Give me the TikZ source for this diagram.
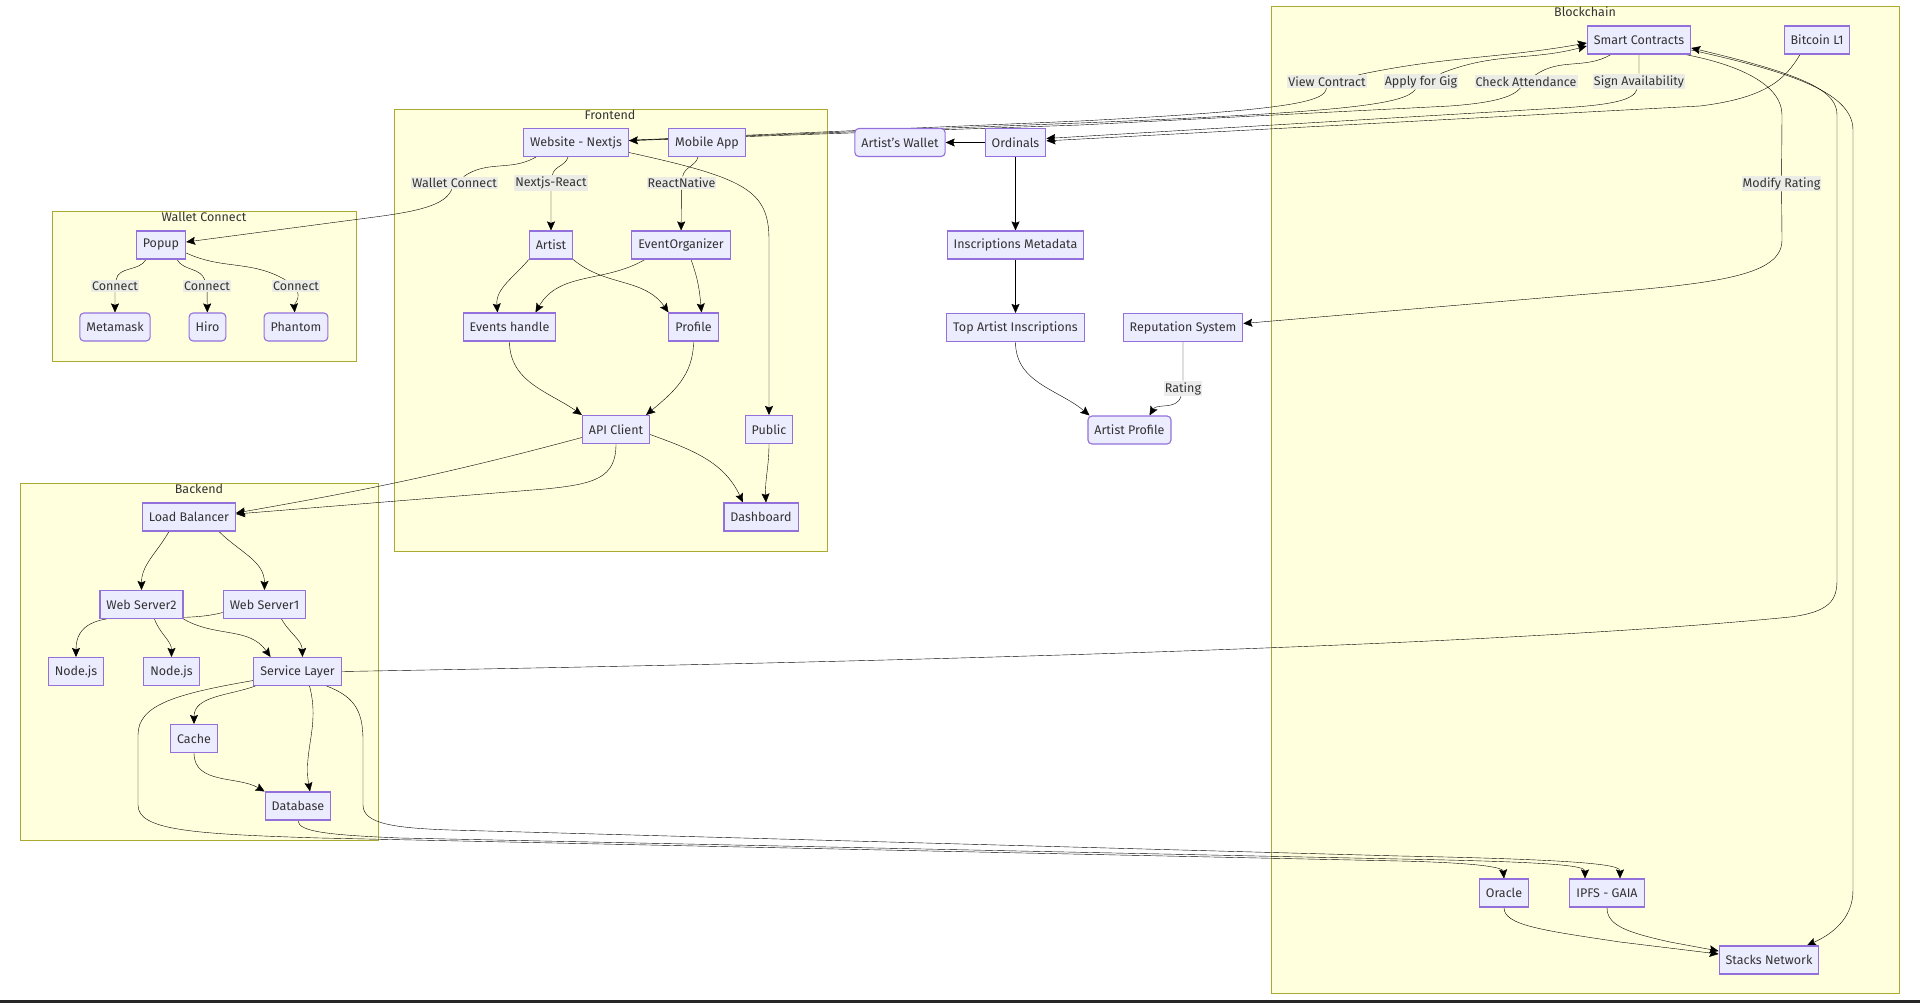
\documentclass[tikz,border=0pt]{standalone}
\usepackage{fontspec}
\setmainfont{Fira Sans}
\usepackage{tikz}
\usetikzlibrary{arrows.meta,backgrounds}
\definecolor{ndfill}{HTML}{ECECFF}
\definecolor{ndline}{HTML}{9370DB}
\definecolor{grpfill}{HTML}{FFFFDE}
\definecolor{grpline}{HTML}{AAAA33}
\definecolor{txt}{HTML}{333333}
\definecolor{lblbg}{HTML}{E8E8E8}

\begin{document}
\begin{tikzpicture}[x=1pt,y=1pt,>={Stealth[length=9pt,width=8pt,inset=1.5pt]},
    font=\fontsize{12.5}{15}\selectfont,
    nd/.style={draw=ndline,fill=ndfill,line width=1.1pt,minimum height=28pt,inner xsep=6.5pt,text=txt},
    rnd/.style={nd,rounded corners=4pt},
    lbl/.style={fill=lblbg,fill opacity=0.8,text opacity=1,text=txt,inner xsep=1pt,inner ysep=1.5pt},
    grp/.style={draw=grpline,fill=grpfill,line width=0.9pt},
    ttl/.style={anchor=north,text=txt,inner sep=0.5pt}]
  \useasboundingbox (0,0) rectangle (1920,-1003);
  \fill[black!85] (0,-1000) rectangle (1920,-1003);

  \node[ttl] (twc) at (204,-211) {Wallet Connect};
  \node[ttl] (tfe) at (610,-109) {Frontend};
  \node[ttl] (tbe) at (199,-483) {Backend};
  \node[ttl] (tbc) at (1585,-6) {Blockchain};

  \node[nd] (web) at (576,-142.5) {Website - Nextjs};
  \node[nd] (mob) at (707,-142.5) {Mobile App};
  \node[nd] (popup) at (161,-245) {Popup};
  \node[rnd] (meta) at (115,-327) {Metamask};
  \node[rnd] (hiro) at (207.5,-327) {Hiro};
  \node[rnd] (phan) at (296,-327) {Phantom};
  \node[nd] (artist) at (551,-245) {Artist};
  \node[nd] (evorg) at (681,-245) {EventOrganizer};
  \node[nd] (evh) at (509.5,-327) {Events handle};
  \node[nd] (prof) at (693.5,-327) {Profile};
  \node[nd] (api) at (616,-429.5) {API Client};
  \node[nd] (pub) at (769,-429.5) {Public};
  \node[nd] (dash) at (761,-517) {Dashboard};
  \node[nd] (lb) at (189,-517) {Load Balancer};
  \node[nd] (ws2) at (141.5,-604.5) {Web Server2};
  \node[nd] (ws1) at (264.5,-604.5) {Web Server1};
  \node[nd] (njs1) at (76,-671.5) {Node.js};
  \node[nd] (njs2) at (171.5,-671.5) {Node.js};
  \node[nd] (svc) at (297.5,-671.5) {Service Layer};
  \node[nd] (cache) at (194,-738.5) {Cache};
  \node[nd] (db) at (298,-806) {Database};
  \node[rnd] (wallet) at (900,-142.5) {Artist's Wallet};
  \node[nd] (ord) at (1015.5,-142.5) {Ordinals};
  \node[nd] (insm) at (1015.5,-245) {Inscriptions Metadata};
  \node[nd] (topi) at (1015.5,-327.5) {Top Artist Inscriptions};
  \node[nd] (rep) at (1183,-327.5) {Reputation System};
  \node[rnd] (aprof) at (1129.5,-430) {Artist Profile};
  \node[nd] (sc) at (1639,-40) {Smart Contracts};
  \node[nd] (btc) at (1817,-40) {Bitcoin L1};
  \node[nd] (orac) at (1504,-893) {Oracle};
  \node[nd] (ipfs) at (1607,-893) {IPFS - GAIA};
  \node[nd] (stacks) at (1769,-960) {Stacks Network};

  \node[lbl] (lwc) at (454.5,-183) {Wallet Connect};
  \node[lbl] (lnr) at (551,-183) {Nextjs-React};
  \node[lbl] (lrn) at (681.5,-183) {ReactNative};
  \node[lbl] (lc1) at (115,-286) {Connect};
  \node[lbl] (lc2) at (207,-286) {Connect};
  \node[lbl] (lc3) at (296,-286) {Connect};
  \node[lbl] (lvc) at (1327,-81.5) {View Contract};
  \node[lbl] (lag) at (1421,-81.5) {Apply for Gig};
  \node[lbl] (lca) at (1526,-81.5) {Check Attendance};
  \node[lbl] (lsa) at (1639,-81.5) {Sign Availability};
  \node[lbl] (lmr) at (1781.5,-183.5) {Modify Rating};
  \node[lbl] (lrt) at (1183,-388.5) {Rating};

  \begin{scope}[on background layer]
    \draw[grp] (52,-211) rectangle (356,-361);
    \draw[grp] (394,-109) rectangle (827,-551);
    \draw[grp] (20,-483) rectangle (378,-840);
    \draw[grp] (1271,-6) rectangle (1899,-993);
  \end{scope}

  \begin{scope}[on background layer,color=txt,line width=2.5pt]
    \draw[->] ([xshift=-40pt]web.south) to[out=-150,in=35] (lwc) .. controls (445,-205) and (420,-211) .. (375,-217) -- ([yshift=3pt]popup.east);
    \draw[->] ([xshift=-15pt]popup.south) to[out=-120,in=80] (lc1) -- (meta);
    \draw[->] ([xshift=16pt]popup.south) to[out=-60,in=110] (lc2) -- (hiro);
    \draw[->] ([yshift=-8pt]popup.east) to[out=-25,in=150] (lc3) to[out=-75,in=95] (phan);

    \draw[->] ([xshift=-8pt]web.south) to[out=-105,in=80] (lnr) -- (artist);
    \draw[->] ([xshift=-9pt]mob.south) to[out=-105,in=80] (lrn) -- (evorg);
    \draw[->] ([yshift=-10pt]web.east) .. controls (745,-178) and (769,-190) .. (769,-240) -- (pub);
    \draw[->] (artist.south west) to[out=-130,in=95] ([xshift=-12pt]evh.north);
    \draw[->] (artist.south east) to[out=-40,in=125] ([xshift=-25pt]prof.north);
    \draw[->] ([xshift=-36pt]evorg.south) to[out=-150,in=60] ([xshift=26pt]evh.north);
    \draw[->] ([xshift=10pt]evorg.south) to[out=-70,in=95] ([xshift=8pt]prof.north);
    \draw[->] (evh) to[out=-90,in=145] (api.north west);
    \draw[->] (prof) to[out=-90,in=40] ([xshift=-4pt]api.north east);
    \draw[->] ([yshift=-8pt]api.west) to[out=-165,in=10] ([yshift=4pt]lb.east);
    \draw[->] (api.south) .. controls (616,-478) and (595,-484) .. (545,-489) -- ([yshift=3pt]lb.east);
    \draw[->] ([yshift=-5pt]api.east) to[out=-20,in=115] ([xshift=-18pt]dash.north);
    \draw[->] (pub) to[out=-90,in=93] ([xshift=5pt]dash.north);

    \draw[->] ([xshift=-20pt]lb.south) to[out=-120,in=90] (ws2);
    \draw[->] ([xshift=30pt]lb.south) to[out=-45,in=90] (ws1);
    \draw[->] ([yshift=-8pt]ws1.west) to[out=-165,in=90] (njs1);
    \draw[->] ([xshift=13pt]ws2.south) to[out=-70,in=90] (njs2);
    \draw[->] (ws2.south east) to[out=-30,in=125] ([xshift=-27pt]svc.north);
    \draw[->] ([xshift=17pt]ws1.south) to[out=-60,in=92] ([xshift=5pt]svc.north);
    \draw[->] ([xshift=2pt]svc.south west) to[out=-160,in=90] (cache);
    \draw[->] (cache) to[out=-90,in=150] (db.north west);
    \draw[->] ([xshift=12pt]svc.south) to[out=-75,in=100] ([xshift=12pt]db.north);

    \draw[->] ([yshift=-9pt]svc.west) .. controls (175,-694) and (138,-705) .. (138,-735) -- (138,-805) .. controls (138,-830) and (190,-834) .. (320,-838) -- (1400,-861) .. controls (1485,-863) and (1503,-868) .. (orac.north);
    \draw[->] (db.south) .. controls (298,-832) and (330,-835) .. (400,-838) -- (1400,-859) .. controls (1560,-862) and (1585,-866) .. ([xshift=-22pt]ipfs.north);
    \draw[->] ([xshift=-15pt]svc.south east) .. controls (352,-696) and (363,-708) .. (363,-740) -- (363,-805) .. controls (363,-824) and (395,-828) .. (450,-830) -- (1400,-856) .. controls (1605,-860) and (1620,-866) .. ([xshift=13pt]ipfs.north);
    \draw[->] (svc.east) .. controls (900,-662) and (1500,-646) .. (1790,-617) .. controls (1830,-612) and (1837,-600) .. (1837,-580) -- (1837,-115) .. controls (1837,-92) and (1810,-76) .. ([yshift=-8pt]sc.east);
    \draw[->] ([yshift=-10pt]sc.east) .. controls (1780,-70) and (1853,-90) .. (1853,-130) -- (1853,-890) .. controls (1853,-920) and (1830,-935) .. ([xshift=38pt]stacks.north);
    \draw[->] (orac) .. controls (1504,-925) and (1540,-930) .. (1620,-942) -- ([yshift=6pt]stacks.west);
    \draw[->] (ipfs) .. controls (1607,-925) and (1625,-932) .. (1670,-942) -- ([yshift=9pt]stacks.west);

    \draw[->] (web) -- (1080,-121) .. controls (1290,-110) and (1325,-102) .. (lvc) to[out=12,in=190] ([yshift=-3pt]sc.west);
    \draw[->] (web) -- (1080,-123) .. controls (1350,-112) and (1405,-104) .. (lag) to[out=22,in=195] ([yshift=-6pt]sc.west);
    \draw[->] ([xshift=-28pt]sc.south) to[out=-150,in=35] (lca) .. controls (1512,-98) and (1490,-103) .. (1450,-106) -- (1080,-125) -- (web);
    \draw[->] (sc) -- (lsa) .. controls (1634,-100) and (1612,-105) .. (1560,-108) -- ([yshift=4pt]ord.east);
    \draw[->] ([xshift=-17pt]btc.south) .. controls (1785,-80) and (1765,-98) .. (1700,-106) -- (ord);
    \draw[->] ([xshift=-6pt]sc.south east) .. controls (1740,-65) and (1782,-85) .. (1782,-115) -- (lmr) -- (1782,-240) .. controls (1782,-275) and (1720,-283) .. (1600,-293) -- ([yshift=4pt]rep.east);

    \draw[->] (ord) -- (wallet);
    \draw[->] (ord) -- (insm);
    \draw[->] (insm) -- (topi);
    \draw[->] (topi) to[out=-90,in=140] ([xshift=-40pt]aprof.north);
    \draw[->] (rep) -- (lrt) to[out=-105,in=60] ([xshift=20pt]aprof.north);
  \end{scope}
\end{tikzpicture}
\end{document}
